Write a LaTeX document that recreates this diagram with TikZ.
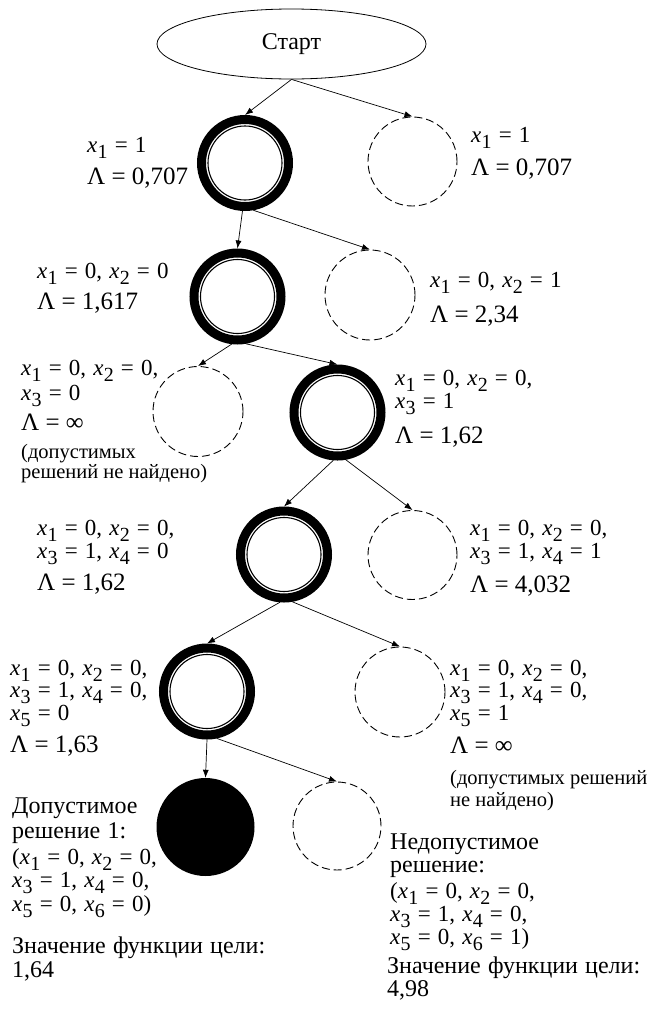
\documentclass[tikz,border=0pt]{standalone}
\usepackage{fontspec}
\setmainfont{Liberation Serif}
\usetikzlibrary{arrows.meta,shapes.geometric}
\newcommand\xx[1]{\textit{x}\kern0.3pt\raisebox{-6.5pt}{\fontsize{20}{20}\selectfont #1}}
\newcommand\lbl[5][txt]{\node[#1] (#2) at (#3,#4) {#5};}
\newcommand\fxl{\fontsize{23}{23}\selectfont\spaceskip=0.31em plus 0.1em\relax}
\newcommand\fcyr{\fontsize{24}{24}\selectfont\spaceskip=0.3em plus 0.1em\relax}
\tikzset{
  txt/.style={inner sep=0pt, anchor=base west, font=\fxl},
  cyr/.style={txt, font=\fcyr},
  lam/.style={txt, font=\fontsize{25}{25}\selectfont},
  par/.style={txt, font=\fontsize{20.5}{20.5}\selectfont},
  boldc/.style={circle, draw, line width=9pt, minimum size=87pt, inner sep=0pt},
  dashc/.style={circle, draw, line width=0.9pt, dash pattern=on 8pt off 4pt, inner sep=0pt},
  solid fill/.style={circle, fill=black, inner sep=0pt, minimum size=98pt},
  conn/.style={line width=0.7pt, -{Latex[length=8pt,width=6pt]}},
}
\begin{document}
\begin{tikzpicture}[x=1pt,y=-1pt]
\useasboundingbox (0,0) rectangle (657,1010);
\node[ellipse, draw, line width=0.8pt, minimum width=269pt, minimum height=70pt, font=\fontsize{24}{24}\selectfont] (start) at (291.5,44) {Старт};
% bold nodes
\node[boldc] (a1) at (245,163) {};
\node[boldc] (a2) at (237.5,296.5) {};
\node[boldc] (a3) at (337.5,412.5) {};
\node[boldc] (a4) at (284,554.5) {};
\node[boldc] (a5) at (207,691.5) {};
\foreach \n in {a1,a2,a3,a4,a5} \draw[line width=1.1pt] (\n.center) circle[radius=37pt];
\node[solid fill] (f6) at (205.5,827) {};
% dashed nodes
\node[dashc, minimum size=89pt] (b1) at (412.5,161.5) {};
\node[dashc, minimum size=90pt] (b2) at (370,295) {};
\node[dashc, minimum size=90pt] (c3) at (198,411.5) {};
\node[dashc, minimum size=89pt] (b4) at (412.5,555) {};
\node[dashc, minimum size=90pt] (b5) at (400,692) {};
\node[dashc, minimum size=88pt] (b6) at (337,826) {};
% connectors
\draw[conn] (start.south) -- (a1.north);
\draw[conn] (start.south) -- (b1.north);
\draw[conn] (a1.-93) -- (a2.north);
\draw[conn] (a1.-80) -- (b2.north);
\draw[conn] (a2.-97) -- (c3.north);
\draw[conn] (a2.-80) -- (a3.north);
\draw[conn] (a3.-95) -- (a4.north);
\draw[conn] (a3.-80) -- (b4.north);
\draw[conn] (a4.-95) -- (a5.north);
\draw[conn] (a4.-80) -- (b5.north);
\draw[conn] (a5.-90) -- (f6.north);
\draw[conn] (a5.-78) -- (b6.north);
% labels
\lbl{l1a}{87}{152}{\xx1 = 1}
\lbl[lam]{l1b}{87}{184}{Λ = 0,707}
\lbl{r1a}{471}{142}{\xx1 = 1}
\lbl[lam]{r1b}{471}{175}{Λ = 0,707}
\lbl{l2a}{37}{278}{\xx1 = 0, \xx2 = 0}
\lbl[lam]{l2b}{37}{309}{Λ = 1,617}
\lbl{r2a}{430}{287}{\xx1 = 0, \xx2 = 1}
\lbl[lam]{r2b}{430}{322}{Λ = 2,34}
\lbl{l3a}{21}{375}{\xx1 = 0, \xx2 = 0,}
\lbl{l3b}{21}{400}{\xx3 = 0}
\lbl[lam]{l3c}{21}{430}{Λ = ∞}
\lbl[par]{l3d}{21}{458}{(допустимых}
\lbl[par]{l3e}{21}{478}{решений не найдено)}
\lbl{r3a}{395}{385}{\xx1 = 0, \xx2 = 0,}
\lbl{r3b}{395}{408}{\xx3 = 1}
\lbl[lam]{r3c}{395}{443}{Λ = 1,62}
\lbl{l4a}{37}{535}{\xx1 = 0, \xx2 = 0,}
\lbl{l4b}{37}{558}{\xx3 = 1, \xx4 = 0}
\lbl[lam]{l4c}{37}{590}{Λ = 1,62}
\lbl{r4a}{470}{535}{\xx1 = 0, \xx2 = 0,}
\lbl{r4b}{470}{558}{\xx3 = 1, \xx4 = 1}
\lbl[lam]{r4c}{470}{592}{Λ = 4,032}
\lbl{l5a}{10}{675}{\xx1 = 0, \xx2 = 0,}
\lbl{l5b}{10}{697}{\xx3 = 1, \xx4 = 0,}
\lbl{l5c}{10}{720}{\xx5 = 0}
\lbl[lam]{l5d}{10}{752}{Λ = 1,63}
\lbl{r5a}{450}{675}{\xx1 = 0, \xx2 = 0,}
\lbl{r5b}{450}{697}{\xx3 = 1, \xx4 = 0,}
\lbl{r5c}{450}{720}{\xx5 = 1}
\lbl[lam]{r5d}{450}{753}{Λ = ∞}
\lbl[par]{r5e}{450}{784}{(допустимых решений}
\lbl[par]{r5f}{450}{806}{не найдено)}
\lbl[cyr]{l6a}{12}{813}{Допустимое}
\lbl[cyr]{l6b}{12}{838}{решение 1:}
\lbl{l6c}{12}{864}{(\xx1 = 0, \xx2 = 0,}
\lbl{l6d}{12}{887}{\xx3 = 1, \xx4 = 0,}
\lbl{l6e}{12}{911}{\xx5 = 0, \xx6 = 0)}
\lbl[cyr]{l6f}{12}{953}{Значение функции цели:}
\lbl[cyr]{l6g}{12}{977}{1,64}
\lbl[cyr]{r6a}{390}{849}{Недопустимое}
\lbl[cyr]{r6b}{390}{872}{решение:}
\lbl{r6c}{390}{898}{(\xx1 = 0, \xx2 = 0,}
\lbl{r6d}{390}{921}{\xx3 = 1, \xx4 = 0,}
\lbl{r6e}{390}{944}{\xx5 = 0, \xx6 = 1)}
\lbl[cyr]{r6f}{387}{973}{Значение функции цели:}
\lbl[cyr]{r6g}{387}{996}{4,98}
\end{tikzpicture}
\end{document}
